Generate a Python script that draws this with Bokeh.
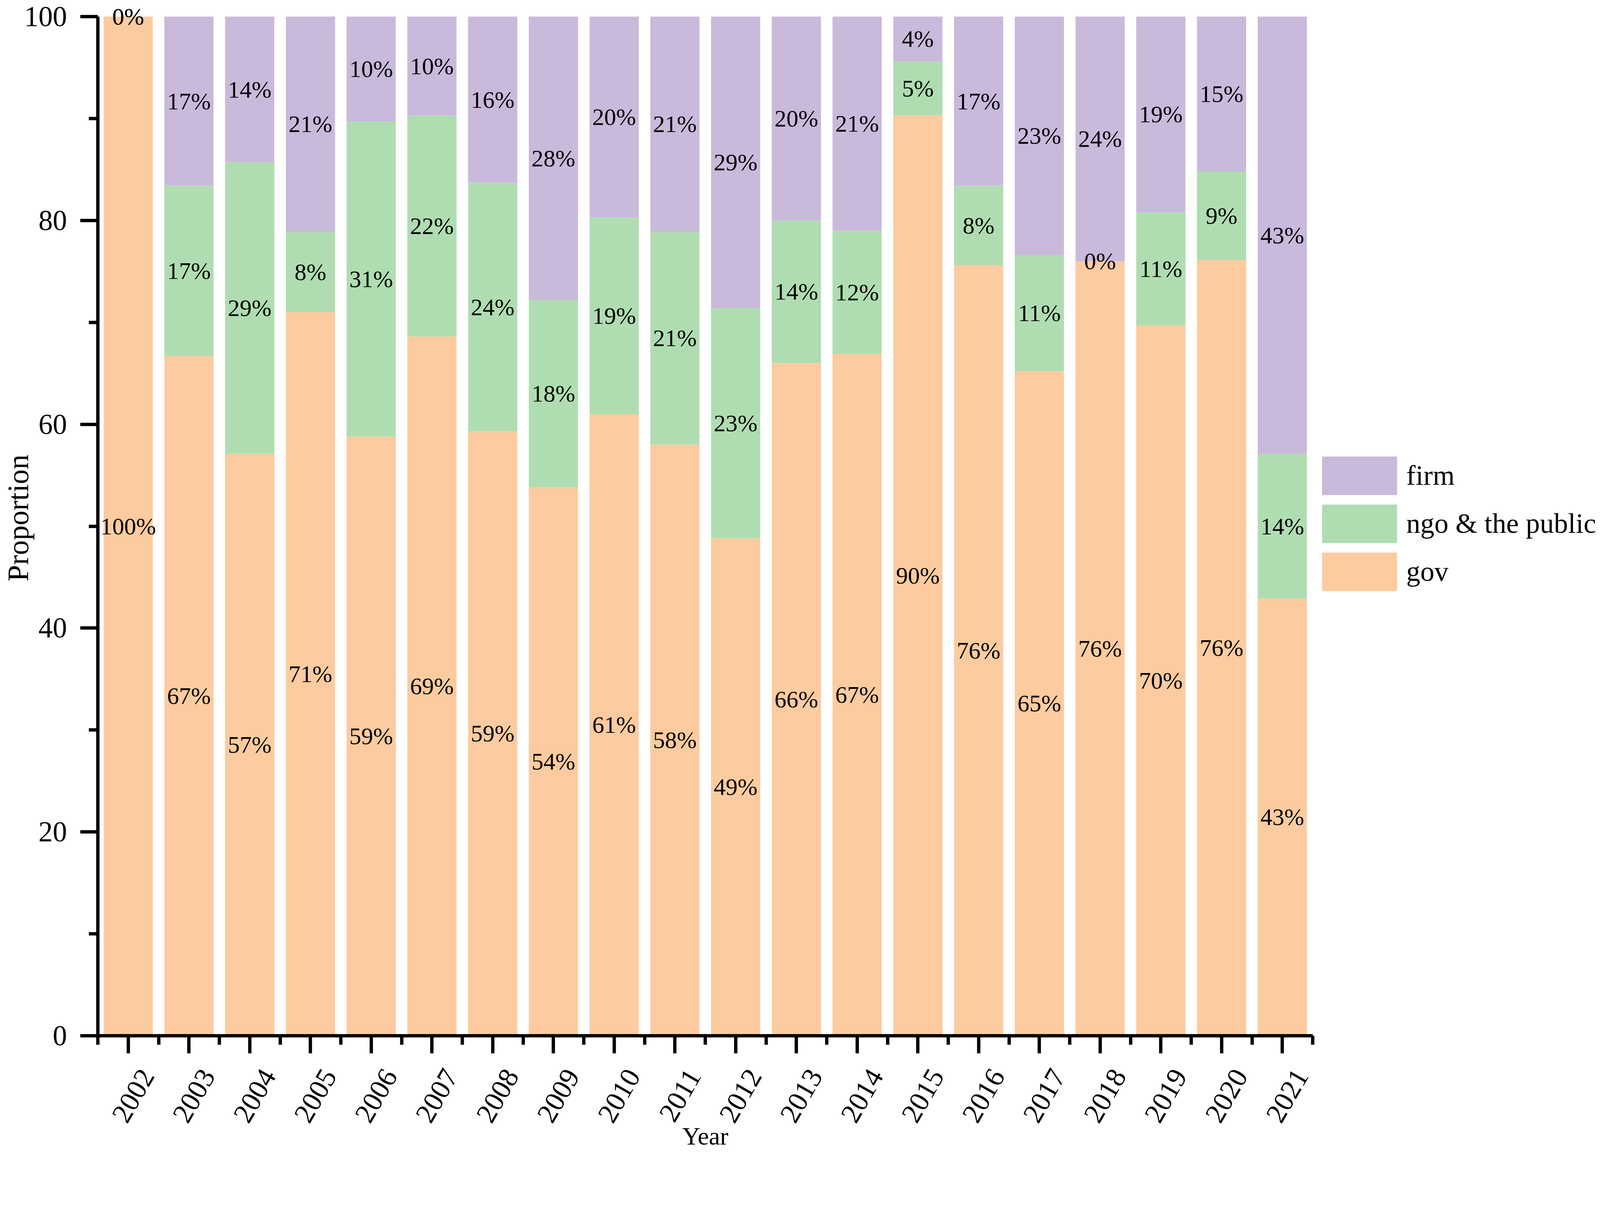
import math
from bokeh.plotting import figure
from bokeh.models import (ColumnDataSource, Range1d, FixedTicker, Legend, LegendItem,
                          LinearAxis)
from bokeh.core.properties import value
from bokeh.embed import file_html
from bokeh.resources import INLINE

years = [2002, 2003, 2004, 2005, 2006, 2007, 2008, 2009, 2010, 2011,
         2012, 2013, 2014, 2015, 2016, 2017, 2018, 2019, 2020, 2021]
gov = [100.0, 66.7, 57.1, 71.0, 58.8, 68.6, 59.3, 53.8, 61.0, 58.0,
       48.8, 66.0, 66.9, 90.3, 75.6, 65.2, 76.0, 69.7, 76.1, 42.9]
ngo = [0.0, 16.7, 28.6, 7.9, 30.9, 21.7, 24.4, 18.4, 19.3, 20.9,
       22.6, 14.0, 12.1, 5.3, 7.8, 11.4, 0.0, 11.1, 8.7, 14.2]
firm = [0.0, 16.6, 14.3, 21.1, 10.3, 9.7, 16.3, 27.8, 19.7, 21.1,
        28.6, 20.0, 21.0, 4.4, 16.6, 23.4, 24.0, 19.2, 15.2, 42.9]
series_names = ["gov", "ngo & the public", "firm"]
y_ticks = [0, 20, 40, 60, 80, 100]
y_minor = [10, 30, 50, 70, 90]

colors = {"gov": "#FCCB9F", "ngo": "#AFDDB1", "firm": "#C9B9DB"}
FONT = "Liberation Serif"

idx = list(range(len(years)))
src = ColumnDataSource(dict(x=idx, gov=gov, ngo=ngo, firm=firm))

p = figure(frame_width=3110, frame_height=2651,
           x_range=Range1d(-0.5, len(years) - 0.5), y_range=Range1d(0, 101.61),
           output_backend="svg", toolbar_location=None,
           min_border_left=244, min_border_right=726,
           min_border_top=0, min_border_bottom=270)
p.outline_line_color = None
p.xgrid.visible = False
p.ygrid.visible = False

renderers = p.vbar_stack(["gov", "ngo", "firm"], x="x", width=0.81,
                         color=[colors["gov"], colors["ngo"], colors["firm"]],
                         line_color=None, source=src)

# segment labels
lx, ly, lt = [], [], []
for i in idx:
    base = 0.0
    for vals in (gov, ngo, firm):
        v = vals[i]
        lx.append(i)
        ly.append(base + v / 2.0)
        lt.append(f"{round(v)}%")
        base += v
lsrc = ColumnDataSource(dict(x=lx, y=ly, t=lt))
p.text(x="x", y="y", text="t", source=lsrc, text_align="center",
       text_baseline="middle", text_font=value(FONT),
       text_font_size=value("61px"), text_color="black")

# axes
for ax in (p.xaxis[0], p.yaxis[0]):
    ax.axis_line_width = 8.5
    ax.axis_line_color = "black"
    ax.major_tick_line_width = 8.5
    ax.minor_tick_line_width = 8.5
    ax.major_tick_in = 0
    ax.minor_tick_in = 0
    ax.major_tick_out = 45
    ax.minor_tick_out = 23
    ax.major_label_text_font = FONT
    ax.major_label_text_font_size = "73px"
    ax.major_label_text_color = "black"
    ax.axis_label_text_font = FONT
    ax.axis_label_text_font_style = "normal"
    ax.axis_label_text_color = "black"

p.yaxis.ticker = FixedTicker(ticks=y_ticks, minor_ticks=y_minor)
p.yaxis.bounds = (0, 100)
p.yaxis.axis_label = "Proportion"
p.yaxis.axis_label_text_font_size = "76px"
p.yaxis.major_label_standoff = 34
p.yaxis.axis_label_standoff = -29

# x axis line + ticks (labels carried by the second axis below)
xax = p.xaxis[0]
xax.ticker = FixedTicker(ticks=idx, minor_ticks=[i - 0.5 for i in range(len(years) + 1)])
xax.major_label_overrides = {i: "" for i in idx}
xax.major_label_text_font_size = "1px"
xax.major_label_standoff = 0

shift = 0.315  # rotated labels sit a little right of their ticks, as in the original
label_pos = [i + shift for i in idx]
year_axis = LinearAxis(ticker=FixedTicker(ticks=label_pos),
                       major_label_overrides={pos: str(y) for pos, y in zip(label_pos, years)},
                       axis_line_color=None, major_tick_line_color=None,
                       minor_tick_line_color=None, major_tick_out=0, major_tick_in=0,
                       minor_tick_out=0, minor_tick_in=0,
                       major_label_orientation=math.pi / 3, major_label_standoff=46,
                       major_label_text_font=FONT, major_label_text_font_size="72px",
                       major_label_text_color="black",
                       axis_label="Year", axis_label_text_font=FONT,
                       axis_label_text_font_size="64px", axis_label_text_font_style="normal",
                       axis_label_text_color="black", axis_label_standoff=-21)
p.add_layout(year_axis, "below")

legend = Legend(items=[LegendItem(label=series_names[2], renderers=[renderers[2]]),
                       LegendItem(label=series_names[1], renderers=[renderers[1]]),
                       LegendItem(label=series_names[0], renderers=[renderers[0]])],
                location=(0, 1126), orientation="vertical",
                glyph_width=240, glyph_height=123, label_standoff=0,
                spacing=-11, padding=0, margin=0,
                label_text_font=FONT, label_text_font_size="72px",
                label_text_color="black",
                border_line_color=None, background_fill_alpha=0)
p.add_layout(legend, "right")

open("out.html", "w").write(file_html(p, INLINE))
